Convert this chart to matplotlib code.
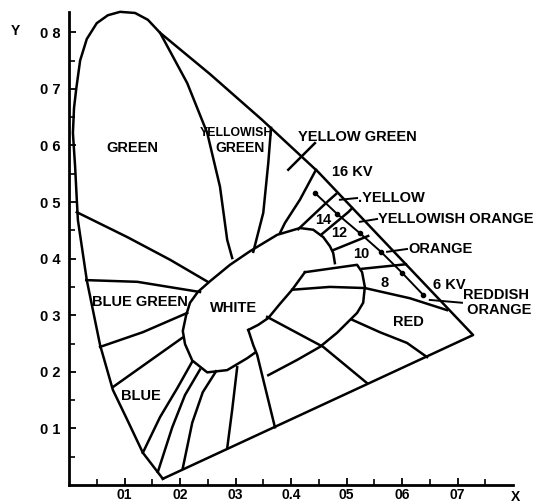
import matplotlib
matplotlib.use("Agg")
import matplotlib.pyplot as plt
import numpy as np

# chromaticity coordinates (x, y)

# spectral locus + purple line (closed)
locus_x = [0.169, 0.133, 0.105, 0.079, 0.056, 0.032, 0.016, 0.014, 0.011, 0.007, 0.009,
           0.013, 0.020, 0.032, 0.050, 0.070, 0.092, 0.119, 0.142, 0.164, 0.254, 0.348,
           0.449, 0.728, 0.169]
locus_y = [0.011, 0.057, 0.115, 0.168, 0.247, 0.362, 0.468, 0.504, 0.562, 0.622, 0.666,
           0.700, 0.750, 0.788, 0.816, 0.830, 0.836, 0.834, 0.822, 0.799, 0.726, 0.645,
           0.553, 0.265, 0.011]

# white area outline (left / top side)
white_x = [0.334, 0.321, 0.285, 0.249, 0.222, 0.209, 0.205, 0.211, 0.218, 0.232, 0.254,
           0.290, 0.326, 0.375, 0.416, 0.440, 0.458, 0.470, 0.476, 0.479]
white_y = [0.233, 0.224, 0.203, 0.199, 0.220, 0.249, 0.272, 0.300, 0.322, 0.341, 0.360,
           0.389, 0.413, 0.442, 0.454, 0.451, 0.438, 0.422, 0.410, 0.392]

# lower-right edge of white area
edge_x = [0.323, 0.341, 0.359, 0.380, 0.402, 0.425]
edge_y = [0.274, 0.283, 0.295, 0.320, 0.345, 0.376]

# attached lobe: top line and right arc
lobe_x = [0.425, 0.519, 0.528, 0.533, 0.530, 0.519, 0.483, 0.452, 0.411, 0.359]
lobe_y = [0.376, 0.389, 0.376, 0.350, 0.322, 0.304, 0.269, 0.244, 0.221, 0.194]

# hue boundaries
boundaries = {
    "green_yg": ([0.164, 0.213, 0.249, 0.272, 0.285, 0.294],
                 [0.799, 0.710, 0.622, 0.527, 0.433, 0.401]),
    "yg_yellowgreen": ([0.364, 0.359, 0.350, 0.332], [0.631, 0.569, 0.481, 0.412]),
    "yellowgreen_y": ([0.445, 0.416, 0.389, 0.380], [0.557, 0.504, 0.463, 0.445]),
    "c14": ([0.413, 0.465, 0.481], [0.452, 0.500, 0.514]),
    "c12": ([0.454, 0.503, 0.510], [0.442, 0.482, 0.489]),
    "c10": ([0.476, 0.539], [0.415, 0.440]),
    "c8": ([0.528, 0.607], [0.382, 0.390]),
    "red_top": ([0.402, 0.470, 0.533, 0.614, 0.681], [0.345, 0.350, 0.348, 0.330, 0.309]),
    "red_low": ([0.510, 0.560, 0.609, 0.645], [0.292, 0.270, 0.251, 0.226]),
    "notch": ([0.323, 0.332, 0.339, 0.348, 0.359, 0.371], [0.274, 0.247, 0.230, 0.194, 0.150, 0.102]),
    "diag": ([0.357, 0.458, 0.537], [0.297, 0.244, 0.180]),
    "green_bg": ([0.014, 0.105, 0.182, 0.250], [0.482, 0.438, 0.398, 0.359]),
    "bg1": ([0.031, 0.123, 0.236], [0.362, 0.359, 0.341]),
    "bg2": ([0.056, 0.133, 0.213], [0.244, 0.270, 0.304]),
    "blue_top": ([0.079, 0.204], [0.173, 0.260]),
    "b1": ([0.133, 0.164, 0.195, 0.222], [0.057, 0.120, 0.171, 0.218]),
    "b2": ([0.160, 0.186, 0.209, 0.236], [0.023, 0.102, 0.159, 0.204]),
    "b3": ([0.205, 0.222, 0.241, 0.265], [0.030, 0.110, 0.164, 0.201]),
    "b4": ([0.285, 0.294, 0.303], [0.065, 0.133, 0.208]),
    "yg_leader": ([0.395, 0.443], [0.557, 0.604]),
}

# kV scale (16 kV ... 6 kV)
kv_x = [0.443, 0.483, 0.524, 0.562, 0.600, 0.638]
kv_y = [0.516, 0.479, 0.445, 0.412, 0.375, 0.336]

# colour names along the locus with leader lines
leaders = [
    (".YELLOW", [0.488, 0.519], [0.504, 0.507]),
    ("YELLOWISH ORANGE", [0.524, 0.555], [0.465, 0.470]),
    ("ORANGE", [0.573, 0.609], [0.412, 0.417]),
    ("REDDISH\n ORANGE", [0.650, 0.708], [0.327, 0.322]),
]

region_labels = ["GREEN", "YELLOW GREEN", "16 KV", "14", "12", "10",
                 "8", "6 KV", "BLUE GREEN", "WHITE", "BLUE", "RED"]
label_x = [0.114, 0.519, 0.510, 0.458, 0.486, 0.526, 0.569, 0.686, 0.128, 0.297, 0.130, 0.611]
label_y = [0.595, 0.615, 0.553, 0.468, 0.445, 0.408, 0.357, 0.353, 0.323, 0.313, 0.157, 0.288]

xticks = [0.1, 0.2, 0.3, 0.4, 0.5, 0.6, 0.7]
xtick_labels = ["01", "02", "03", "0.4", "05", "06", "07"]
yticks = [0.1, 0.2, 0.3, 0.4, 0.5, 0.6, 0.7, 0.8]
ytick_labels = ["0 1", "0 2", "0 3", "0 4", "0 5", "0 6", "0 7", "0 8"]

plt.rcParams['font.family'] = ['Liberation Sans', 'DejaVu Sans']
plt.rcParams['font.weight'] = 'bold'

fig = plt.figure(figsize=(5.38, 5.04), dpi=100)
ax = fig.add_axes([0.1283, 0.0377, 0.8253, 0.9433])
ax.set_xlim(0, 0.80)
ax.set_ylim(0, 0.84)

lw = 1.8
ax.plot(locus_x, locus_y, color="black", lw=lw, solid_joinstyle="round")
ax.plot(white_x, white_y, color="black", lw=lw, solid_joinstyle="round")
ax.plot(edge_x, edge_y, color="black", lw=lw)
ax.plot(lobe_x, lobe_y, color="black", lw=lw, solid_joinstyle="round")
for name in boundaries:
    bx, by = boundaries[name]
    ax.plot(bx, by, color="black", lw=lw, solid_joinstyle="round")

ax.plot(kv_x, kv_y, color="black", lw=1.4, marker="o", ms=3)

for txt, lx, ly in leaders:
    ax.plot(lx, ly, color="black", lw=1.4)
    ax.text(lx[1] + 0.002, ly[1], txt, fontsize=10.5, fontweight="bold",
            ha="left", va="center", linespacing=1.05)

for txt, tx, ty in zip(region_labels, label_x, label_y):
    ax.text(tx, ty, txt, fontsize=10.5, fontweight="bold", ha="center", va="center",
            linespacing=1.1)

# squeezed two-line label between the two boundaries
ax.text(0.302, 0.622, "YELLOWISH", fontsize=8.8, fontweight="bold", ha="center", va="center")
ax.text(0.308, 0.595, "GREEN", fontsize=10, fontweight="bold", ha="center", va="center")

ax.text(-0.097, 0.802, "Y", fontsize=10, fontweight="bold", ha="center", va="center", clip_on=False)
ax.text(0.804, -0.021, "X", fontsize=10, fontweight="bold", ha="center", va="center", clip_on=False)

for s in ["top", "right"]:
    ax.spines[s].set_visible(False)
ax.spines["left"].set_linewidth(2)
ax.spines["bottom"].set_linewidth(2)
ax.spines["left"].set_bounds(0, 0.836)

ax.set_xticks(xticks)
ax.set_xticklabels(xtick_labels)
ax.set_yticks(yticks)
ax.set_yticklabels(ytick_labels)
ax.set_xticks(np.arange(0.05, 0.8, 0.1), minor=True)
ax.set_yticks(np.arange(0.05, 0.8, 0.1), minor=True)
ax.tick_params(which="major", direction="in", length=5, width=1.3, labelsize=10)
ax.tick_params(which="minor", direction="in", length=4, width=1.2)
ax.tick_params(axis="x", pad=2)
ax.tick_params(axis="y", pad=6, labelsize=10.5)

fig.savefig("out.png", dpi=100)
